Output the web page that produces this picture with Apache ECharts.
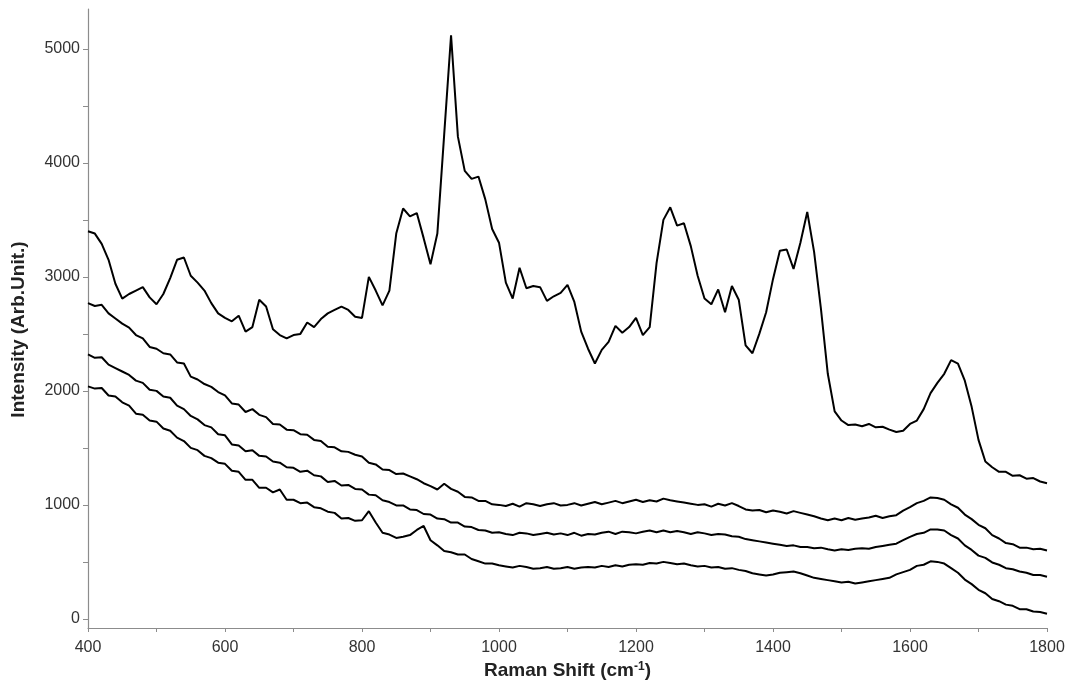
<!DOCTYPE html>
<html>
<head>
<meta charset="utf-8">
<title>Raman spectra</title>
<script src="https://cdn.jsdelivr.net/npm/echarts@6/dist/echarts.min.js"></script>
<style>
	html, body { margin: 0; padding: 0; background: #fff; }
	#chart { width: 1072px; height: 687px; }
</style>
</head>
<body>
<div id="chart"></div>
<script>
// Raman shift grid (cm-1)
var shifts = [
	400, 410, 420, 430, 440, 450, 460, 470, 480, 490, 500, 510, 520, 530, 540, 550, 560, 570, 580, 590,
	600, 610, 620, 630, 640, 650, 660, 670, 680, 690, 700, 710, 720, 730, 740, 750, 760, 770, 780, 790,
	800, 810, 820, 830, 840, 850, 860, 870, 880, 890, 900, 910, 920, 930, 940, 950, 960, 970, 980, 990,
	1000, 1010, 1020, 1030, 1040, 1050, 1060, 1070, 1080, 1090, 1100, 1110, 1120, 1130, 1140, 1150, 1160, 1170, 1180, 1190,
	1200, 1210, 1220, 1230, 1240, 1250, 1260, 1270, 1280, 1290, 1300, 1310, 1320, 1330, 1340, 1350, 1360, 1370, 1380, 1390,
	1400, 1410, 1420, 1430, 1440, 1450, 1460, 1470, 1480, 1490, 1500, 1510, 1520, 1530, 1540, 1550, 1560, 1570, 1580, 1590,
	1600, 1610, 1620, 1630, 1640, 1650, 1660, 1670, 1680, 1690, 1700, 1710, 1720, 1730, 1740, 1750, 1760, 1770, 1780, 1790,
	1800
];

// spectrum 1 (top, with bands)
var spectrum1 = [
	3400, 3380, 3290, 3150, 2940, 2810, 2850, 2880, 2910, 2820, 2760, 2850, 2990, 3150, 3170, 3010, 2950, 2880, 2770, 2680,
	2640, 2610, 2660, 2520, 2560, 2800, 2740, 2540, 2490, 2460, 2490, 2500, 2600, 2560, 2630, 2680, 2710, 2740, 2710, 2650,
	2640, 3000, 2880, 2750, 2880, 3380, 3600, 3530, 3560, 3340, 3110, 3380, 4250, 5120, 4230, 3930, 3860, 3880, 3680, 3420,
	3300, 2950, 2810, 3080, 2900, 2920, 2910, 2790, 2830, 2860, 2930, 2780, 2520, 2370, 2240, 2360, 2430, 2570, 2510, 2560,
	2640, 2490, 2560, 3120, 3500, 3610, 3450, 3470, 3270, 3010, 2810, 2760, 2890, 2690, 2920, 2800, 2400, 2330, 2500, 2690,
	2980, 3230, 3240, 3070, 3300, 3570, 3220, 2720, 2150, 1820, 1740, 1700, 1705, 1690, 1710, 1680, 1685, 1660, 1640, 1650,
	1710, 1740, 1840, 1980, 2070, 2150, 2270, 2240, 2090, 1860, 1570, 1380, 1330, 1290, 1290, 1255, 1260, 1230, 1235, 1205,
	1190
];

// spectrum 2
var spectrum2 = [
	2770, 2745, 2755, 2680, 2635, 2590, 2555, 2490, 2460, 2385, 2370, 2330, 2320, 2250, 2240, 2125, 2100, 2060, 2035, 1990,
	1960, 1890, 1880, 1815, 1840, 1790, 1770, 1710, 1705, 1660, 1655, 1620, 1615, 1570, 1560, 1510, 1505, 1470, 1465, 1440,
	1425, 1370, 1355, 1310, 1305, 1270, 1275, 1250, 1225, 1190, 1165, 1135, 1185, 1140, 1115, 1070, 1065, 1035, 1035, 1005,
	1000, 990, 1010, 985, 1015, 1005, 990, 1005, 1015, 995, 1000, 1015, 995, 1010, 1025, 1005, 1020, 1035, 1015, 1030,
	1045, 1025, 1040, 1030, 1055, 1040, 1030, 1020, 1010, 1000, 1005, 985, 1010, 995, 1015, 990, 960, 950, 955, 935,
	950, 940, 925, 945, 930, 915, 900, 880, 865, 880, 865, 885, 870, 880, 890, 905, 885, 900, 910, 950,
	980, 1015, 1035, 1065, 1060, 1045, 1005, 975, 915, 875, 825, 795, 735, 705, 665, 655, 625, 625, 610, 615,
	600
];

// spectrum 3
var spectrum3 = [
	2320, 2290, 2295, 2230, 2200, 2170, 2140, 2090, 2070, 2010, 2000, 1950, 1940, 1870, 1840, 1780, 1750, 1700, 1680, 1620,
	1610, 1530, 1520, 1470, 1480, 1430, 1425, 1380, 1370, 1330, 1325, 1290, 1300, 1260, 1250, 1200, 1210, 1170, 1175, 1140,
	1135, 1090, 1085, 1040, 1025, 995, 995, 960, 955, 920, 915, 880, 875, 845, 845, 810, 805, 780, 775, 755,
	760, 745, 735, 755, 750, 735, 745, 755, 740, 750, 735, 755, 730, 745, 740, 755, 765, 745, 765, 760,
	750, 765, 775, 760, 775, 760, 770, 760, 745, 760, 750, 735, 745, 740, 725, 720, 700, 690, 680, 670,
	660, 650, 640, 645, 630, 630, 620, 625, 610, 600, 610, 605, 615, 620, 615, 630, 640, 650, 660, 690,
	720, 745, 755, 785, 785, 775, 735, 705, 645, 605, 555, 535, 495, 475, 445, 435, 415, 405, 385, 385,
	370
];

// spectrum 4 (bottom)
var spectrum4 = [
	2040, 2020, 2025, 1960, 1950, 1900, 1870, 1800, 1790, 1740, 1730, 1670, 1650, 1590, 1560, 1500, 1480, 1430, 1410, 1370,
	1360, 1300, 1290, 1220, 1220, 1150, 1150, 1110, 1135, 1045, 1045, 1015, 1020, 980, 970, 940, 930, 880, 885, 860,
	865, 945, 845, 755, 740, 710, 720, 735, 780, 815, 690, 645, 595, 585, 565, 565, 525, 505, 485, 485,
	470, 460, 450, 465, 455, 440, 445, 455, 440, 445, 455, 440, 450, 455, 450, 465, 455, 470, 460, 475,
	480, 475, 490, 485, 500, 490, 480, 485, 470, 460, 465, 450, 455, 440, 445, 430, 420, 400, 390, 380,
	390, 405, 410, 415, 400, 380, 360, 350, 340, 330, 320, 325, 310, 320, 330, 340, 350, 360, 390, 410,
	430, 465, 475, 505, 500, 485, 445, 405, 345, 305, 255, 225, 175, 155, 125, 115, 85, 85, 65, 60,
	45
];

var yLabels = [0, 1000, 2000, 3000, 4000, 5000];
var yTicks = [0, 500, 1000, 1500, 2000, 2500, 3000, 3500, 4000, 4500, 5000];

(function(){
	var font = 'Liberation Sans, Arial, sans-serif',
		axisGrey = '#8c8c8c';

	function pairs(ys){
		var out = [];
		for (var i = 0; i < shifts.length; i++) {
			out.push([shifts[i], ys[i]]);
		}
		return out;
	}

	function lineSeries(ys){
		return {
			type: 'line',
			showSymbol: false,
			data: pairs(ys),
			lineStyle: { color: '#000', width: 2 },
			itemStyle: { color: '#000' },
			silent: true
		};
	}

	function plain(v){
		return String(v);
	}

	var option = {
		backgroundColor: '#fff',
		animation: false,
		grid: { left: 88, right: 25, top: 9, bottom: 59, outerBoundsMode: 'none' },
		xAxis: {
			type: 'value',
			min: 400,
			max: 1800,
			interval: 200,
			name: '{a|Raman Shift (cm}{s|-1}{a|)}',
			nameLocation: 'middle',
			nameGap: 33,
			nameTextStyle: {
				rich: {
					a: { fontFamily: font, fontSize: 19, fontWeight: 'bold', color: '#222' },
					s: { fontFamily: font, fontSize: 12, fontWeight: 'bold', color: '#222', padding: [0, 0, 8, 0] }
				}
			},
			axisLine: { onZero: false, lineStyle: { color: axisGrey, width: 1.2 } },
			axisTick: { show: true, length: 4, lineStyle: { color: axisGrey } },
			minorTick: { show: true, splitNumber: 2, length: 4, lineStyle: { color: axisGrey } },
			splitLine: { show: false },
			axisLabel: { fontFamily: font, fontSize: 16, color: '#333', margin: 12, formatter: plain }
		},
		yAxis: {
			type: 'value',
			min: -80,
			max: 5350,
			name: 'Intensity (Arb.Unit.)',
			nameLocation: 'middle',
			nameGap: 60,
			nameTextStyle: { fontFamily: font, fontSize: 19, fontWeight: 'bold', color: '#222', padding: [0, 22, 0, 0] },
			axisLine: { show: true, lineStyle: { color: axisGrey, width: 1.2 } },
			axisTick: { show: true, length: 5, customValues: yTicks, lineStyle: { color: axisGrey } },
			splitLine: { show: false },
			axisLabel: { fontFamily: font, fontSize: 16, color: '#333', margin: 8, customValues: yLabels, formatter: plain }
		},
		series: [
			lineSeries(spectrum1),
			lineSeries(spectrum2),
			lineSeries(spectrum3),
			lineSeries(spectrum4)
		]
	};

	var myChart = echarts.init(document.getElementById('chart'), null, { renderer: 'canvas' });
	myChart.setOption(option);
})();
</script>
</body>
</html>
